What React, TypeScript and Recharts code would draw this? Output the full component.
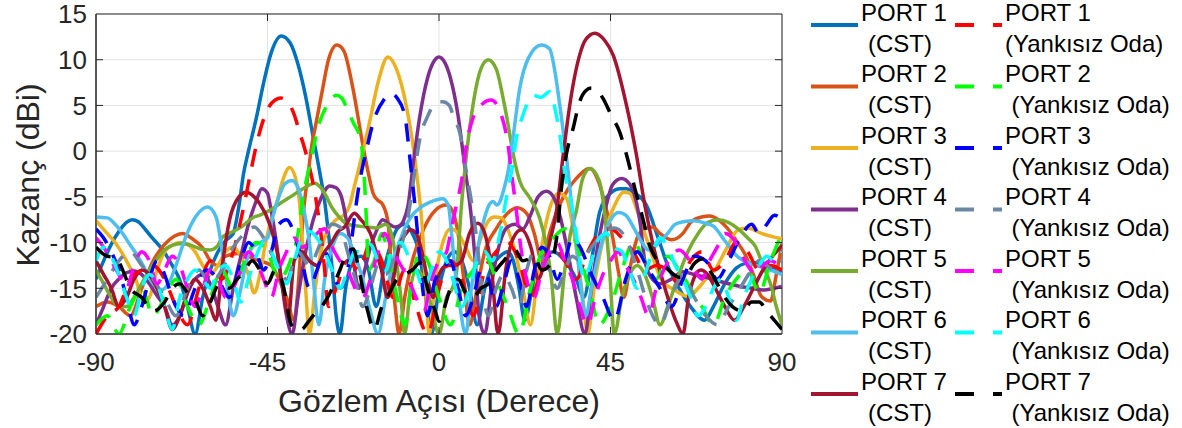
import React from "react";
import { LineChart, Line, XAxis, YAxis, CartesianGrid, ReferenceArea, ReferenceLine } from "recharts";

const FONT = 'Arial, "Liberation Sans", Helvetica, sans-serif';
const INK = "#262626";

// tick labels
const xTicks = [-90, -45, 0, 45, 90];
const yTicks = [-20, -15, -10, -5, 0, 5, 10, 15];

// [angle (deg), gain (dBi)]
const port1Cst = [[-90,-14],[-88,-12],[-86,-10.2],[-84,-8.8],[-82,-7.8],[-80.5,-7.5],[-79,-7.7],[-77,-8.6],[-75,-9.6],[-72.5,-10.8],[-70,-12.5],[-68,-14.1],[-66,-17],[-64,-20],[-62,-16],[-60,-13],[-58,-11],[-56,-9.8],[-54,-9],[-52.5,-6],[-51.3,-2.5],[-50,0],[-48,3.5],[-46,7.5],[-44,10.8],[-41.4,12.6],[-39,11.8],[-37,9.5],[-35,6],[-33,1.5],[-31.3,-2.3],[-30,-5.5],[-29,-9],[-28,-13],[-27,-18],[-26,-20],[-24.5,-15],[-22.5,-12],[-20.5,-11.5],[-18.5,-13],[-16.5,-17],[-14.5,-13],[-12.5,-10],[-11,-8.5],[-9,-8],[-7,-9],[-5,-11.5],[-3.5,-16],[-2,-20],[0,-15],[2,-12],[4,-11],[6,-12],[8,-15],[10,-19],[12,-15],[14,-12.5],[16,-11.5],[18,-11],[19.5,-12],[21,-15],[22.5,-18.5],[24.5,-15],[27,-12],[30,-11],[33,-12],[36,-14],[38,-16],[40,-12],[42.2,-6.6],[45,-4.6],[47.5,-4.1],[49.2,-4.1],[51,-4.5],[54.4,-5.9],[57.5,-9.5],[60,-12.5],[63,-15],[66,-17],[69.7,-18.5],[72,-17],[75,-14.5],[78,-12.8],[80.2,-12.3],[83,-12.2],[85.5,-12.3],[88,-12.8],[90,-13.2]];
const port2Cst = [[-90,-17],[-87,-16.5],[-84,-17],[-81,-18],[-78,-15],[-75,-12],[-72,-10.2],[-69.5,-9.3],[-67.3,-9],[-65,-9.5],[-62,-10.6],[-60,-12],[-58,-12.5],[-56,-11.5],[-53,-11.2],[-50,-11.5],[-47,-12],[-44,-12.5],[-42,-14],[-40,-16],[-38,-18.5],[-37,-15],[-36,-9],[-35.2,-5.2],[-34.5,-3],[-33.5,0.3],[-32.2,3.2],[-30.5,6.9],[-29,10],[-26.8,11.6],[-25,11],[-22.6,6.9],[-20,0.7],[-18.5,-2.5],[-17.3,-4.6],[-16,-5.4],[-15,-5.7],[-13.4,-7.7],[-12.6,-12],[-11.5,-17],[-10.5,-20],[-9,-16],[-7,-12],[-4,-8.5],[-1,-6.5],[1.9,-5.9],[3.5,-6.5],[5,-9],[6.5,-14],[8,-19],[10,-15],[12,-11],[15,-8.5],[18,-6.8],[20.5,-6.2],[23,-6.8],[25,-9],[27,-12],[29,-9],[31.5,-6],[33.8,-4.2],[36,-3],[39.6,-1.9],[42,-3.5],[44,-6.5],[45.6,-9.5],[47,-13],[48.5,-16],[50,-13],[52,-9.5],[54,-8.5],[56,-8.3],[58,-9],[61,-9.7],[64,-9],[66,-7.8],[68.9,-7.2],[71,-7.1],[73.3,-7.5],[76,-8.6],[78,-9.8],[80.2,-11.2],[82.5,-13.5],[84.6,-15.9],[87,-16.4],[88.5,-13.5],[90,-10.1]];
const port3Cst = [[-90,-7.6],[-87.5,-8.8],[-84.8,-10.1],[-82,-12],[-79.5,-14.1],[-77.5,-16.5],[-76,-16],[-74,-13],[-72,-11],[-70,-10.3],[-68,-10],[-66,-10.2],[-64,-11],[-62,-12.5],[-60,-13.5],[-58,-12.5],[-56,-11],[-54,-10.5],[-52,-11.5],[-50,-13.5],[-48.5,-15.5],[-47,-13.5],[-45.5,-10],[-44,-7.5],[-42.5,-5.5],[-41,-3.2],[-39.2,-1.8],[-37.5,-3.2],[-36.5,-6],[-35.8,-10.3],[-35,-15],[-34,-20],[-32.5,-15],[-31,-11],[-29,-8.5],[-27,-7.5],[-25,-7],[-23.4,-5.9],[-22.3,-4],[-20.8,-1.5],[-18.2,3.2],[-16,7.5],[-13.4,10.3],[-11,8.8],[-8.6,5],[-5.9,-2.3],[-4.2,-9.5],[-3.4,-16],[-2.5,-20],[-1,-14],[1,-10],[3,-8.5],[5,-9],[7,-10.5],[9,-12],[11,-9.5],[13,-7.6],[14.5,-7.2],[16.4,-7.3],[18,-8.5],[20,-11],[22,-15],[24,-19],[26,-13],[28,-8],[30,-5.2],[31.5,-4.6],[33.5,-5.2],[35,-8],[36.5,-12],[38,-17],[39,-20],[41,-14],[43.5,-9],[46,-6],[48.5,-4.5],[50,-4.6],[52,-6.5],[54,-9],[56,-11.5],[58.4,-14.1],[61,-15],[63,-15.5],[65.3,-15.9],[68,-15],[70,-14],[72.4,-13],[75,-11],[78.5,-8.6],[81,-8.4],[84.6,-9],[87,-9.3],[90,-9.6]];
const port4Cst = [[-90,-19],[-88,-17],[-86,-15],[-84,-14],[-82,-13.3],[-80,-13.1],[-78,-13.5],[-76,-14.5],[-74,-15.8],[-72,-17],[-70,-19],[-68,-18],[-66,-15.5],[-64,-14],[-62,-13.5],[-60,-14.5],[-58,-17],[-56,-19],[-54,-15],[-52,-11.5],[-50,-8],[-48,-5.5],[-46.5,-4.1],[-45,-4.6],[-44,-6.6],[-42.7,-9.9],[-41.4,-14],[-40,-18],[-38.5,-20],[-37,-16],[-35,-11],[-33,-7.5],[-31,-5.2],[-28.7,-3.8],[-27,-4],[-25.6,-5],[-24,-8.3],[-22.5,-12],[-21,-15],[-19.5,-13],[-18,-10.5],[-16.5,-8.8],[-14.8,-7.5],[-13,-8],[-11.5,-8.3],[-10.5,-8.2],[-9.4,-7.7],[-8.1,-5.9],[-6.8,-1.5],[-5,3.9],[-3,8],[-1.5,9.7],[0,10.3],[1.5,9.7],[3,8],[5,3.9],[6.7,-1.5],[8.5,-7.3],[9.5,-12],[10.5,-18],[12,-20],[14,-14],[16,-10],[18,-8.3],[20,-8],[22,-8.5],[24,-7],[26,-5],[28.2,-4.4],[30,-5],[32,-7.5],[34,-11.5],[36,-16],[38.3,-20],[40,-15],[42,-9.5],[43.9,-5.9],[45.5,-3.7],[47.9,-3],[50,-3.6],[51,-4.4],[52.8,-7.9],[54,-12],[56,-14],[58,-14.5],[61,-14],[64,-13.2],[67,-13.5],[70,-13.8],[72.4,-14.1],[76,-14.5],[79,-14.8],[82.2,-15],[85,-15.2],[88,-15],[90,-14.8]];
const port5Cst = [[-90,-13],[-88,-14.5],[-86,-16],[-84,-17],[-82,-17],[-80,-16],[-78,-14.5],[-76,-13],[-74,-11.8],[-72,-10.8],[-70,-10.3],[-67.5,-10.1],[-65,-10.3],[-62.5,-10.7],[-60,-10.8],[-58,-10.3],[-56.8,-9.4],[-54,-8.8],[-51,-8],[-49,-7.3],[-47,-7],[-44.5,-6.5],[-42,-5.8],[-39,-5],[-36,-4.2],[-34,-3.7],[-32.6,-3.5],[-31,-4],[-29.5,-5],[-28.2,-6.1],[-26,-7.3],[-24,-8],[-21,-8.2],[-19,-8.3],[-16.5,-8.4],[-14,-8],[-12.5,-9],[-11.2,-12],[-10,-16],[-9,-20],[-7.5,-15],[-6,-13],[-4,-14],[-2,-17],[0,-20],[2,-16],[3.5,-15],[4.6,-13.2],[5.9,-5.9],[7.2,-0.4],[8.9,5],[11,9],[12.9,10],[15,9],[17.2,5],[19.9,-1.2],[21.2,-3.3],[23.8,-5.1],[26.4,-7.3],[28,-10],[29.5,-14],[31,-20],[33,-13],[34.5,-9],[36,-6.6],[37.7,-3],[39.6,-1.9],[42,-3.2],[43.7,-7.7],[44.8,-13.2],[46,-20],[48,-16],[50,-13.5],[52,-12.5],[54,-13.5],[56,-16],[58,-19],[60,-17],[62.5,-14],[65.3,-11],[68,-9],[70.5,-7.8],[73.2,-7.5],[76,-7.8],[78.5,-8.5],[81,-9.5],[83,-10.4],[85,-12.5],[87.2,-14.8],[88.5,-17],[90,-19]];
const port6Cst = [[-90,-7.2],[-87,-7.3],[-85,-8],[-83,-9],[-81.3,-10.1],[-79,-11.5],[-77,-13],[-75,-14.5],[-73,-15.2],[-71,-14.5],[-69,-12.5],[-67,-10],[-65,-8],[-63,-6.7],[-60.7,-6.1],[-58.5,-7.2],[-56.8,-11.2],[-55.5,-15],[-54,-18],[-52,-15],[-50.5,-12],[-49,-10.5],[-47,-10],[-45,-9.5],[-43.5,-7],[-42,-5],[-40.5,-3.6],[-38.6,-3.2],[-37,-4],[-35.3,-6.8],[-34,-10],[-33,-14],[-31.5,-19],[-30,-14],[-28,-10.5],[-26,-9],[-24,-9.5],[-22,-11.5],[-20,-14],[-18,-17.5],[-16,-20],[-14,-16],[-12,-12],[-10,-9.5],[-8.5,-8],[-7,-7],[-5,-6.2],[-2.5,-5.6],[1,-5.2],[2.5,-6],[3.4,-9.5],[4.2,-13],[5.5,-17],[7,-20],[8.5,-15],[10,-11],[11.5,-8],[13,-6],[14.2,-5.5],[15.2,-5.9],[16,-5.5],[17,-4.2],[18.1,-2.3],[19.4,1.4],[21.2,6.9],[23.5,10.2],[26.9,11.6],[29,11.2],[30.5,8.5],[31.7,5],[33.9,-2.3],[34.8,-5.9],[36,-10],[37,-14],[38.5,-18],[40,-15],[41.5,-12],[43.5,-9],[45.5,-7.2],[47.2,-6.7],[49,-7],[51,-8.3],[53,-9.8],[54.9,-10.8],[57,-10.3],[60,-9],[62,-8],[64.5,-7.7],[67,-7.6],[70,-7.9],[72,-8.2],[75,-9.8],[78.5,-11.6],[81,-12.2],[84,-12.6],[87,-13],[90,-13.5]];
const port7Cst = [[-90,-12],[-88,-13.5],[-86,-15],[-84,-17],[-82,-16],[-80,-14],[-78,-13],[-76,-13.5],[-74,-15],[-72,-17],[-70,-19.5],[-68,-18],[-66,-15.5],[-64,-14],[-62,-15],[-60,-17],[-58.5,-18.5],[-57,-13],[-55,-7.6],[-52.5,-5],[-50.6,-4.5],[-48.5,-5],[-47.1,-5.7],[-44.5,-7.9],[-42.5,-11],[-41,-15],[-39.5,-18],[-38,-12],[-36,-11],[-34,-12],[-32,-12.5],[-30,-11],[-28.2,-10],[-26.5,-8.8],[-24.8,-8.3],[-22.2,-6.8],[-20.5,-7.5],[-18,-9],[-16.5,-11],[-15.1,-13],[-13.5,-16],[-12,-14],[-10.5,-10.5],[-9,-9.2],[-7.5,-8.6],[-6,-9],[-4.5,-11],[-3,-14],[-1.5,-16],[0,-13.5],[2,-12.5],[4,-12.5],[5.9,-12],[8,-9],[10.2,-7.9],[12,-9],[13.8,-13],[15.5,-20],[17.5,-13],[19.5,-9.5],[21.6,-8.6],[24.3,-10.8],[26,-14],[27.5,-12.5],[29,-10],[30.8,-6.6],[32.6,-0.4],[34.3,5],[36.9,10.5],[38.5,12.2],[40.9,12.9],[43.5,12.1],[45.7,10.5],[49.2,5],[51.8,-0.4],[54,-5.9],[56.2,-10.3],[58.8,-14.3],[62.3,-18.7],[64,-20],[65.5,-16],[67,-13.8],[68.7,-13],[70.5,-13.5],[72.5,-15],[75,-17],[77.5,-18.5],[80,-17],[82.5,-15],[85,-13],[87.5,-11.5],[90,-10.3]];

const port1Meas = [[-90,-20],[-87,-18],[-84,-17],[-81,-14],[-78,-13],[-75,-12.5],[-72,-14],[-69,-17],[-66,-19],[-63,-15],[-60,-12],[-57,-14],[-54,-11],[-52.5,-8.5],[-51.5,-6.6],[-49.7,-2.9],[-47.9,0.7],[-45.3,4.3],[-43,5.6],[-41.5,5.8],[-39.5,5.3],[-38,4],[-36.6,2.1],[-34.8,-0.4],[-32.2,-5.5],[-31,-9],[-30,-13],[-29,-17],[-27,-15],[-24,-12],[-21,-13],[-18,-10],[-15,-12],[-12,-16],[-9,-13],[-6,-17],[-3,-20],[0,-15],[3,-12],[6,-14],[9,-18],[12,-13],[15,-11],[18,-10],[21,-12],[24,-16],[27,-13],[30,-10.5],[33,-12],[36,-14],[39,-11],[42,-9],[45,-8.5],[48,-9.5],[51,-11],[54,-13],[57,-12.5],[60,-13],[63,-14.5],[66,-12],[69,-11],[72,-13],[75,-12],[78,-10],[81,-11],[84,-13],[87,-12.5],[90,-13]];
const port2Meas = [[-90,-19],[-87,-18],[-84,-20],[-81,-17],[-78,-15],[-75,-18],[-72,-16],[-69,-14],[-66,-17],[-63,-19],[-60,-16],[-57,-13],[-54,-15],[-51,-12],[-48,-10],[-45,-11],[-42,-14],[-39,-12],[-37,-9],[-35.7,-5.1],[-33.9,-1.5],[-31.3,3.2],[-28.7,5.4],[-27,6.1],[-25.5,5.8],[-24,4.5],[-22.6,3.2],[-20.5,1.1],[-19.5,-3.7],[-19,-8],[-18.5,-13],[-17,-12],[-15,-9],[-13,-12],[-11,-16],[-9,-19],[-7,-14],[-5,-11],[-3,-12],[0,-16],[3,-19],[6,-15],[9,-13],[12,-11.5],[15,-14],[18,-17],[21,-20],[24,-15],[27,-11],[30,-9.5],[33,-8.5],[36,-10],[38,-13],[40,-16],[42,-19],[45,-17],[48,-13],[51,-10],[54,-12],[57,-14],[60,-11.5],[63,-13],[66,-15],[69,-17],[72,-19],[75,-16],[78,-14],[81,-13],[84,-15.5],[87,-12],[90,-9]];
const port3Meas = [[-90,-8.5],[-88,-9.5],[-86,-11],[-84,-13],[-82,-16],[-80,-19],[-78,-17],[-76,-14],[-74,-12],[-72,-13.5],[-70,-16],[-67,-18],[-64,-15],[-61,-13],[-58,-14],[-55,-16],[-52,-12],[-50,-10],[-48,-11],[-46,-13],[-44,-11],[-42,-8],[-40,-7.5],[-38,-9],[-36,-12],[-34,-15],[-32,-13],[-30,-11],[-28,-13],[-26,-15],[-24,-13],[-23,-10],[-21.8,-6],[-20.8,-3.3],[-19.1,0],[-17,3.5],[-14.5,5.6],[-12.5,6.3],[-11,5.8],[-9,3.9],[-7.3,-2.1],[-5.9,-7.7],[-5,-12],[-4,-16],[-3,-18],[-1,-14],[1,-13],[3,-12],[5,-15],[7,-18],[9,-16],[11,-13],[13,-14],[15,-17],[17,-14.5],[19,-12],[21,-14],[23,-17],[25,-13],[27,-10.5],[29,-11.5],[31,-14],[33,-12],[35,-9.5],[37,-10.5],[40,-13.5],[43,-16],[46,-18.5],[49,-14],[52,-11],[55,-13],[58,-15],[61,-17],[64,-14],[67,-11.5],[70,-12],[73,-14],[76,-12],[79,-9.5],[82,-8],[84,-9],[86,-8],[88,-7],[90,-7.5]];
const port4Meas = [[-90,-16],[-87,-14],[-84,-12],[-81,-11],[-78,-12.5],[-75,-14],[-72,-16],[-69,-18],[-66,-15],[-63,-13],[-60,-14.5],[-57,-13],[-54,-10.5],[-51,-9],[-48.5,-8.3],[-46,-9.5],[-43,-12],[-40,-14],[-37,-11],[-34,-12.5],[-31,-10],[-28,-8],[-26,-8.3],[-24,-11],[-22,-14],[-20,-17],[-18,-15],[-16,-12.5],[-14,-13.5],[-12,-12],[-10.5,-11],[-9,-9],[-7.7,-6.1],[-6.4,-2.3],[-5,1.4],[-3,3.8],[-1.5,5],[0,5.4],[1,5.4],[2.7,5],[4,3.5],[5.4,2.1],[7.2,-2.3],[8.9,-6.6],[10,-10],[11,-14],[13,-18],[15,-15],[17,-13.5],[19,-15],[21,-17],[23,-13],[25,-11],[27,-11.5],[29,-13],[31,-15],[33,-13],[35,-11.5],[37,-12],[40,-10.5],[43,-9],[46,-8.4],[49,-9.5],[52,-13],[55,-17],[58,-19],[61,-16],[64,-13.5],[67,-16],[70,-18],[73,-19],[76,-17],[79,-15],[82,-13],[84,-12],[86,-12.5],[88,-13],[90,-12]];
const port5Meas = [[-90,-9.5],[-88,-10.5],[-86,-12],[-84,-13.5],[-82,-15],[-80,-12.5],[-78,-11],[-76,-12],[-74,-14.5],[-72,-13],[-70,-11.5],[-68,-12.5],[-66,-15],[-64,-17],[-62,-15],[-60,-13],[-58,-14],[-56,-16],[-54,-15],[-52,-13],[-50,-11],[-48,-12],[-46,-14],[-44,-16],[-42,-13],[-40,-11],[-38,-9.5],[-36,-10.5],[-34,-10],[-32,-9],[-30,-8.5],[-28,-10.5],[-26,-12],[-24,-13],[-22,-15],[-20,-16],[-18,-14],[-16,-11],[-14.3,-9],[-12,-11],[-10,-12.5],[-8,-14],[-6,-16],[-4,-17.5],[-2,-14],[0,-12],[2,-11],[3,-9],[4.5,-6],[5.9,-3.3],[7.2,0.7],[8.9,3.6],[11,5],[13.7,5.6],[16.4,3.9],[18.1,0.7],[19,-2.3],[20,-5.5],[21,-9],[22,-12],[23,-14],[25,-16],[27,-13],[29,-11],[31,-10],[33,-12],[35,-14],[37,-17],[39,-19],[41,-16],[43,-13.5],[45,-12],[47,-11],[49,-12.5],[51,-14],[53,-16],[55,-18],[57,-15],[59,-13],[61,-11.5],[63,-10.8],[65,-11.5],[67,-13],[69,-14],[71,-12],[73,-10.5],[75,-9],[77,-9.5],[79,-11],[81,-12.5],[83,-13.5],[85,-12.5],[87,-12],[89,-12.5],[90,-13]];
const port6Meas = [[-90,-12],[-88,-10.5],[-86,-11.5],[-84,-13.5],[-82,-16],[-80,-18],[-78,-15],[-76,-13.5],[-74,-14.5],[-72,-17],[-70,-19.5],[-68,-16],[-66,-14],[-64,-13],[-62,-14],[-60,-15],[-58,-13],[-56,-12.5],[-54,-14],[-52,-16.5],[-50,-14],[-48,-11.5],[-46,-10],[-44,-11],[-42,-13],[-40,-14.5],[-38,-12],[-36,-9.5],[-34,-8.8],[-32,-9.5],[-30,-11],[-28,-13],[-26,-15],[-24,-13],[-22,-11],[-20,-11],[-18,-10.2],[-16,-12],[-14,-13],[-12,-10.5],[-10,-10],[-8,-11.5],[-6,-13],[-4,-15],[-2,-13],[0,-11],[2,-12],[4,-14.5],[6,-17],[8,-15],[10,-12],[12,-11],[14,-12],[16,-9],[17.5,-5.5],[19,-2.3],[20.3,1.4],[22,3.9],[24.7,6.1],[26.8,5.9],[29,6.5],[30.8,3.9],[32.1,0.7],[33,-2.3],[34.8,-5.9],[36,-9],[37,-12],[38,-14],[40,-12],[42,-9.5],[44,-9],[46,-10.5],[48,-11],[50,-13],[52,-15],[54,-13.5],[56,-11],[58,-9.5],[60,-10.5],[62,-12.5],[64,-14],[66,-16],[68,-18],[70,-17],[72,-15],[74,-14],[76,-16],[78,-18.5],[80,-16],[82,-14],[84,-12.5],[86,-11.5],[88,-12],[90,-11]];
const port7Meas = [[-90,-10.5],[-87,-11.5],[-84.8,-11.6],[-83,-13],[-81,-15],[-78,-16],[-75,-17.5],[-72,-16.5],[-70,-15],[-68,-14.5],[-66,-15.5],[-64,-16.3],[-62,-18],[-60,-16.5],[-57.6,-14.5],[-55,-15],[-53,-14],[-51.5,-13.4],[-49,-12],[-47,-13],[-45,-14.5],[-43,-13],[-41,-14.5],[-39,-18.7],[-37.5,-19.6],[-36,-19.5],[-34,-18.5],[-32,-17.5],[-30.8,-17],[-28,-15],[-26,-13],[-24,-11],[-22.5,-10.7],[-21,-13],[-19,-17],[-17,-19.5],[-15,-17],[-13,-15.5],[-11,-14],[-9,-13.5],[-7,-13],[-5,-12.2],[-3,-15],[-1,-17.5],[0,-18.6],[1.5,-17],[3,-15],[5,-14],[7,-15.5],[9,-16],[11,-15],[13,-14.5],[15,-13],[17,-12],[19.9,-10.8],[22,-12],[25,-11.6],[27,-13],[29,-12.5],[31,-9],[32,-4.5],[33.4,-0.4],[35.2,2.5],[36.9,5.4],[38.5,6.6],[40,6.9],[41.5,6.6],[43,5.8],[45.2,3.9],[47.4,2.1],[49.2,-0.4],[51.4,-4.1],[53.5,-7.4],[55,-10],[57,-11.8],[59,-12.5],[61,-13.3],[63,-13.8],[65,-13.5],[67,-12.3],[69,-11.8],[71,-13],[73,-14.5],[75,-16],[77,-17],[79.8,-17.5],[82,-16.5],[84,-16.5],[86,-17.5],[88,-18.5],[90,-19.5]];

const cstSeries = [
  { port: "PORT 1", color: "#0072BD", data: port1Cst },
  { port: "PORT 2", color: "#D95319", data: port2Cst },
  { port: "PORT 3", color: "#EDB120", data: port3Cst },
  { port: "PORT 4", color: "#7E2F8E", data: port4Cst },
  { port: "PORT 5", color: "#77AC30", data: port5Cst },
  { port: "PORT 6", color: "#4DBEEE", data: port6Cst },
  { port: "PORT 7", color: "#A2142F", data: port7Cst },
];

const measSeries = [
  { port: "PORT 1", color: "#FF0000", data: port1Meas },
  { port: "PORT 2", color: "#00FF00", data: port2Meas },
  { port: "PORT 3", color: "#0000FF", data: port3Meas },
  { port: "PORT 4", color: "#6B87A3", data: port4Meas },
  { port: "PORT 5", color: "#FF00FF", data: port5Meas },
  { port: "PORT 6", color: "#00FFFF", data: port6Meas },
  { port: "PORT 7", color: "#000000", data: port7Meas },
];

const toPoints = (arr: number[][]) => arr.map(([x, y]) => ({ x, y }));

const DASH = "18 13";
// inward tick mark length, in data units (about 7px)
const TICK_DX = 1.84;
const TICK_DY = 0.77;

function LegendBox() {
  const rowY = (i: number) => 25 + 61.5 * i;
  return (
    <g fontFamily={FONT} fontSize={24} fill="#000">
      {cstSeries.map((s, i) => (
        <g key={"c" + i}>
          <line x1={811} x2={858} y1={rowY(i)} y2={rowY(i)} stroke={s.color} strokeWidth={4} />
          <text x={861} y={rowY(i) - 4.3}>{s.port}</text>
          <text x={868} y={rowY(i) + 26.7}>(CST)</text>
        </g>
      ))}
      {measSeries.map((s, i) => (
        <g key={"m" + i}>
          <line x1={955} x2={1002} y1={rowY(i)} y2={rowY(i)} stroke={s.color} strokeWidth={4} strokeDasharray="19 19" />
          <text x={1005} y={rowY(i) - 4.3}>{s.port}</text>
          <text x={i === 0 ? 1005 : 1011.5} y={rowY(i) + 26.7}>(Yankısız Oda)</text>
        </g>
      ))}
    </g>
  );
}

export default function App() {
  const innerX = xTicks.slice(1, -1);
  const innerY = yTicks.slice(1, -1);
  return (
    <div style={{ position: "absolute", left: 0, top: 0, width: 1182, height: 428, background: "#fff" }}>
      <LineChart width={1182} height={428} margin={{ top: 14, right: 400, bottom: 44, left: 36 }}>
        <CartesianGrid stroke="#E3E3E3" strokeWidth={1} />
        <XAxis
          type="number"
          dataKey="x"
          domain={[-90, 90]}
          ticks={xTicks}
          interval={0}
          height={50}
          tickLine={false}
          tickSize={0}
          tickMargin={19}
          axisLine={{ stroke: INK, strokeWidth: 1 }}
          tick={{ fill: INK, fontSize: 26, fontFamily: FONT }}
          allowDataOverflow
        />
        <YAxis
          type="number"
          domain={[-20, 15]}
          ticks={yTicks}
          interval={0}
          width={60}
          tickLine={false}
          tickSize={0}
          tickMargin={9}
          axisLine={{ stroke: INK, strokeWidth: 1 }}
          tick={{ fill: INK, fontSize: 26, fontFamily: FONT }}
          allowDataOverflow
        />
        {cstSeries.map((s) => (
          <Line
            key={"cst-" + s.port}
            data={toPoints(s.data)}
            dataKey="y"
            type="monotone"
            stroke={s.color}
            strokeWidth={3.5}
            dot={false}
            activeDot={false}
            isAnimationActive={false}
          />
        ))}
        {measSeries.map((s) => (
          <Line
            key={"meas-" + s.port}
            data={toPoints(s.data)}
            dataKey="y"
            type="monotone"
            stroke={s.color}
            strokeWidth={3.5}
            strokeDasharray={DASH}
            dot={false}
            activeDot={false}
            isAnimationActive={false}
          />
        ))}
        {innerX.map((t) => (
          <ReferenceLine key={"tb" + t} segment={[{ x: t, y: -20 }, { x: t, y: -20 + TICK_DY }]} stroke={INK} strokeWidth={1} />
        ))}
        {innerX.map((t) => (
          <ReferenceLine key={"tt" + t} segment={[{ x: t, y: 15 }, { x: t, y: 15 - TICK_DY }]} stroke={INK} strokeWidth={1} />
        ))}
        {innerY.map((t) => (
          <ReferenceLine key={"tl" + t} segment={[{ x: -90, y: t }, { x: -90 + TICK_DX, y: t }]} stroke={INK} strokeWidth={1} />
        ))}
        {innerY.map((t) => (
          <ReferenceLine key={"tr" + t} segment={[{ x: 90, y: t }, { x: 90 - TICK_DX, y: t }]} stroke={INK} strokeWidth={1} />
        ))}
        <ReferenceArea x1={-90} x2={90} y1={-20} y2={15} fill="none" stroke={INK} strokeWidth={1} ifOverflow="visible" />
      </LineChart>
      <svg width={1182} height={428} style={{ position: "absolute", left: 0, top: 0, pointerEvents: "none" }}>
        <text x={439} y={412} textAnchor="middle" fontFamily={FONT} fontSize={32} fill={INK}>
          Gözlem Açısı (Derece)
        </text>
        <text
          x={28}
          y={175}
          textAnchor="middle"
          dominantBaseline="central"
          transform="rotate(-90 28 175)"
          fontFamily={FONT}
          fontSize={32}
          fill={INK}
        >
          Kazanç (dBi)
        </text>
        <LegendBox />
      </svg>
    </div>
  );
}
